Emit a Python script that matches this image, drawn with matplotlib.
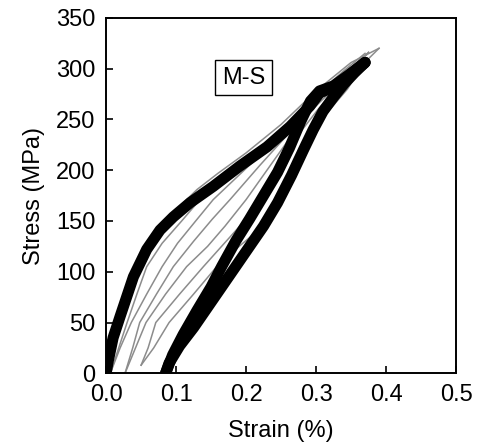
import matplotlib
matplotlib.use('Agg')
import matplotlib.pyplot as plt

plt.rcParams['font.family'] = ['Liberation Sans', 'DejaVu Sans']

# gray cycles (strain %, stress MPa)
g1_load_x = [0.0, 0.01, 0.02, 0.04, 0.06, 0.08, 0.1, 0.13, 0.16, 0.2, 0.25, 0.3, 0.35, 0.39]
g1_load_y = [0, 28, 52, 90, 120, 143, 161, 181, 197, 217, 245, 278, 306, 320]
g1_un_x = [0.39, 0.368, 0.345, 0.32, 0.296, 0.275, 0.253, 0.225, 0.19, 0.158, 0.125, 0.09, 0.068, 0.05]
g1_un_y = [320, 305, 280, 260, 237, 205, 171, 145, 125, 105, 78, 50, 25, 8]
g2_load_x = [0.05, 0.06, 0.071, 0.105, 0.139, 0.165, 0.195, 0.225, 0.25, 0.277, 0.303, 0.33, 0.355, 0.375]
g2_load_y = [8, 25, 50, 78, 105, 125, 148, 171, 205, 237, 260, 280, 300, 316]
g2_un_x = [0.375, 0.35, 0.325, 0.295, 0.268, 0.235, 0.2, 0.17, 0.145, 0.115, 0.085, 0.057, 0.042, 0.027]
g2_un_y = [316, 300, 280, 260, 237, 205, 171, 145, 125, 105, 78, 50, 25, 0]
g3_load_x = [0.027, 0.038, 0.048, 0.072, 0.096, 0.125, 0.152, 0.177, 0.22, 0.262, 0.292, 0.32, 0.348, 0.372]
g3_load_y = [0, 25, 50, 78, 105, 130, 152, 171, 205, 237, 260, 280, 300, 314]
g3_un_x = [0.372, 0.345, 0.315, 0.285, 0.255, 0.205, 0.153, 0.128, 0.102, 0.08, 0.058, 0.036, 0.02, 0.006]
g3_un_y = [314, 298, 280, 260, 237, 205, 171, 150, 128, 105, 78, 50, 25, 0]
g4_load_x = [0.006, 0.018, 0.03, 0.044, 0.058, 0.08, 0.108, 0.134, 0.19, 0.245, 0.28, 0.31, 0.34, 0.37]
g4_load_y = [0, 25, 50, 78, 105, 128, 150, 171, 205, 237, 260, 280, 298, 315]

gray_x = [g1_load_x, g1_un_x, g2_load_x, g2_un_x, g3_load_x, g3_un_x, g4_load_x]
gray_y = [g1_load_y, g1_un_y, g2_load_y, g2_un_y, g3_load_y, g3_un_y, g4_load_y]

# black cycle
b_load_x = [0.0, 0.003, 0.01, 0.02, 0.039, 0.058, 0.077, 0.096, 0.12, 0.153, 0.191, 0.23, 0.263, 0.291, 0.305, 0.325, 0.345, 0.37]
b_load_y = [0, 12, 35, 56, 95, 122, 141, 154, 168, 184, 204, 223, 243, 263, 276, 282, 292, 306]
b_un_x = [0.37, 0.355, 0.34, 0.325, 0.31, 0.296, 0.282, 0.265, 0.245, 0.225, 0.205, 0.185, 0.165, 0.145, 0.125, 0.105, 0.09, 0.085]
b_un_y = [306, 296, 285, 272, 258, 240, 220, 195, 168, 145, 125, 105, 85, 65, 45, 27, 10, 0]
b_re_x = [0.085, 0.095, 0.11, 0.13, 0.15, 0.165, 0.185, 0.205, 0.225, 0.245, 0.262, 0.278, 0.292, 0.305, 0.325, 0.345, 0.37]
b_re_y = [0, 18, 38, 62, 85, 105, 130, 152, 175, 198, 222, 248, 268, 278, 283, 293, 306]

fig = plt.figure(figsize=(4.78, 4.46), dpi=100)
ax = fig.add_axes([0.222, 0.163, 0.732, 0.797])

for xs, ys in zip(gray_x, gray_y):
    ax.plot(xs, ys, color='#8c8c8c', linewidth=1.1, zorder=2)
for xs, ys in [(b_load_x, b_load_y), (b_un_x, b_un_y), (b_re_x, b_re_y)]:
    ax.plot(xs, ys, color='black', linewidth=8, solid_capstyle='round',
            solid_joinstyle='round', zorder=3)

ax.set_xlim(0, 0.5)
ax.set_ylim(0, 350)
ax.set_xticks([0.0, 0.1, 0.2, 0.3, 0.4, 0.5])
ax.set_xticklabels(['0.0', '0.1', '0.2', '0.3', '0.4', '0.5'])
ax.set_yticks(range(0, 351, 50))
ax.tick_params(axis='both', direction='in', length=5, width=1.2, labelsize=17, pad=7.5)
for s in ax.spines.values():
    s.set_linewidth(1.4)
ax.set_xlabel('Strain (%)', fontsize=17, labelpad=10)
ax.set_ylabel('Stress (MPa)', fontsize=17, labelpad=8)

ax.text(0.196, 291, 'M-S', fontsize=17, ha='center', va='center',
        bbox=dict(boxstyle='square,pad=0.28', facecolor='white', edgecolor='black', linewidth=1.0))

plt.savefig('out.png', dpi=100)
